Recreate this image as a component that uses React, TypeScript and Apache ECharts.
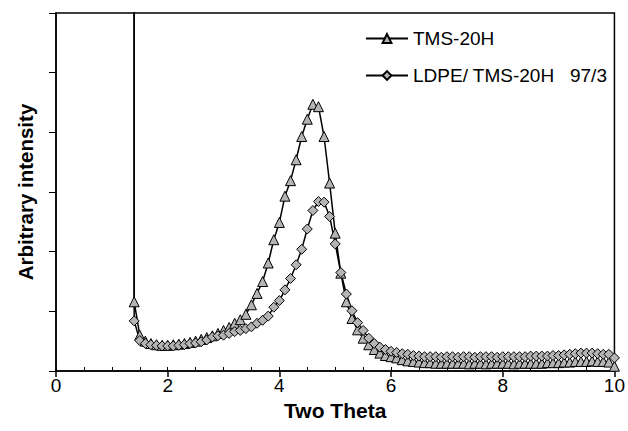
import React, { useEffect, useRef } from "react";
import * as echarts from "echarts";

const twoTheta = [
  1.39, 1.4, 1.5, 1.6, 1.7, 1.8, 1.9, 2.0, 2.1, 2.2, 2.3, 2.4, 2.5, 2.6, 2.7, 2.8, 2.9,
  3.0, 3.1, 3.2, 3.3, 3.4, 3.5, 3.6, 3.7, 3.8, 3.9, 4.0, 4.1, 4.2, 4.3, 4.4, 4.5, 4.6,
  4.7, 4.8, 4.9, 5.0, 5.1, 5.2, 5.3, 5.4, 5.5, 5.6, 5.7, 5.8, 5.9, 6.0, 6.1, 6.2, 6.3,
  6.4, 6.5, 6.6, 6.7, 6.8, 6.9, 7.0, 7.1, 7.2, 7.3, 7.4, 7.5, 7.6, 7.7, 7.8, 7.9, 8.0,
  8.1, 8.2, 8.3, 8.4, 8.5, 8.6, 8.7, 8.8, 8.9, 9.0, 9.1, 9.2, 9.3, 9.4, 9.5, 9.6, 9.7,
  9.8, 9.9, 10.0,
];

const tms20h = [
  40, 1.16, 0.6, 0.5, 0.46, 0.44, 0.43, 0.43, 0.44, 0.45, 0.46, 0.48, 0.5, 0.53, 0.56, 0.59, 0.63,
  0.68, 0.73, 0.8, 0.86, 0.95, 1.11, 1.3, 1.5, 1.81, 2.2, 2.49, 2.93, 3.19, 3.54, 3.93, 4.22, 4.47,
  4.43, 3.93, 3.15, 2.31, 1.64, 1.16, 0.88, 0.69, 0.55, 0.44, 0.36, 0.3, 0.26, 0.24, 0.22, 0.19, 0.17,
  0.16, 0.15, 0.14, 0.14, 0.13, 0.13, 0.13, 0.13, 0.13, 0.13, 0.12, 0.13, 0.13, 0.12, 0.13, 0.13, 0.13,
  0.13, 0.12, 0.13, 0.13, 0.13, 0.13, 0.13, 0.14, 0.14, 0.14, 0.15, 0.15, 0.16, 0.16, 0.16, 0.17, 0.16,
  0.16, 0.15, 0.08,
];

const ldpeTms = [
  40, 0.84, 0.51, 0.46, 0.44, 0.43, 0.42, 0.42, 0.42, 0.43, 0.44, 0.46, 0.47, 0.49, 0.52, 0.57, 0.59,
  0.6, 0.63, 0.66, 0.68, 0.71, 0.74, 0.8, 0.85, 0.92, 1.07, 1.18, 1.36, 1.55, 1.78, 2.04, 2.38, 2.69,
  2.84, 2.83, 2.59, 2.13, 1.65, 1.29, 1.01, 0.81, 0.68, 0.55, 0.46, 0.4, 0.36, 0.33, 0.31, 0.29, 0.28,
  0.26, 0.25, 0.24, 0.24, 0.24, 0.23, 0.24, 0.24, 0.23, 0.24, 0.24, 0.23, 0.24, 0.24, 0.24, 0.23, 0.24,
  0.24, 0.24, 0.24, 0.24, 0.25, 0.25, 0.25, 0.25, 0.26, 0.26, 0.27, 0.28, 0.29, 0.3, 0.3, 0.3, 0.29,
  0.28, 0.28, 0.22,
];

const seriesNames = ["TMS-20H", "LDPE/ TMS-20H   97/3"];
const xAxisTitle = "Two Theta";
const yAxisTitle = "Arbitrary intensity";

const FONT = "'Liberation Sans', Arial, sans-serif";

export default function App() {
  const ref = useRef<HTMLDivElement>(null);

  useEffect(() => {
    if (!ref.current) return;
    const chart = echarts.init(ref.current, null, { renderer: "svg" });
    const pairs = (ys: number[]) => twoTheta.map((x, i) => [x, ys[i]]);
    const markerStyle = { color: "#b4b4b4", borderColor: "#000", borderWidth: 1 };
    chart.setOption({
      animation: false,
      backgroundColor: "#fff",
      textStyle: { fontFamily: FONT },
      grid: {
        left: 56,
        right: 11,
        top: 13,
        bottom: 60,
        show: true,
        borderColor: "#000",
        borderWidth: 1.5,
        backgroundColor: "transparent",
      },
      legend: {
        orient: "vertical",
        left: 360,
        top: 24,
        itemWidth: 42,
        itemHeight: 11,
        itemGap: 18,
        textStyle: { fontFamily: FONT, fontSize: 19, color: "#000" },
        data: seriesNames,
      },
      xAxis: [
        {
          type: "value",
          min: 0,
          max: 10,
          interval: 2,
          name: xAxisTitle,
          nameLocation: "middle",
          nameGap: 28,
          nameTextStyle: { fontFamily: FONT, fontSize: 21, fontWeight: "bold", color: "#000" },
          axisLine: { show: true, onZero: false, lineStyle: { color: "#000", width: 1.5 } },
          axisTick: { show: true, inside: false, length: 6, lineStyle: { color: "#000", width: 1.5 } },
          axisLabel: { fontFamily: FONT, fontSize: 19, color: "#000", margin: 5 },
          splitLine: { show: false },
        },
        {
          type: "value",
          min: 0,
          max: 10,
          interval: 0.5,
          position: "bottom",
          axisLine: { show: false },
          axisTick: { show: true, inside: true, length: 4, lineStyle: { color: "#000", width: 1 } },
          axisLabel: { show: false },
          splitLine: { show: false },
        },
      ],
      yAxis: {
        type: "value",
        min: 0,
        max: 6,
        interval: 1,
        name: yAxisTitle,
        nameLocation: "middle",
        nameGap: 20,
        nameTextStyle: { fontFamily: FONT, fontSize: 20.5, fontWeight: "bold", color: "#000" },
        axisLine: { show: true, onZero: false, lineStyle: { color: "#000", width: 1.5 } },
        axisTick: { show: true, inside: false, length: 7, lineStyle: { color: "#000", width: 1 } },
        axisLabel: { show: false },
        splitLine: { show: false },
      },
      series: [
        {
          name: seriesNames[0],
          type: "line",
          data: pairs(tms20h),
          symbol: "triangle",
          symbolSize: 10,
          showSymbol: true,
          showAllSymbol: true,
          clip: true,
          lineStyle: { color: "#000", width: 1.5 },
          itemStyle: markerStyle,
        },
        {
          name: seriesNames[1],
          type: "line",
          data: pairs(ldpeTms),
          symbol: "diamond",
          symbolSize: 10,
          showSymbol: true,
          showAllSymbol: true,
          clip: true,
          lineStyle: { color: "#000", width: 1.5 },
          itemStyle: markerStyle,
        },
      ],
    });
    return () => chart.dispose();
  }, []);

  return (
    <div
      ref={ref}
      style={{ position: "fixed", left: 0, top: 0, width: 628, height: 431, background: "#fff" }}
    />
  );
}
